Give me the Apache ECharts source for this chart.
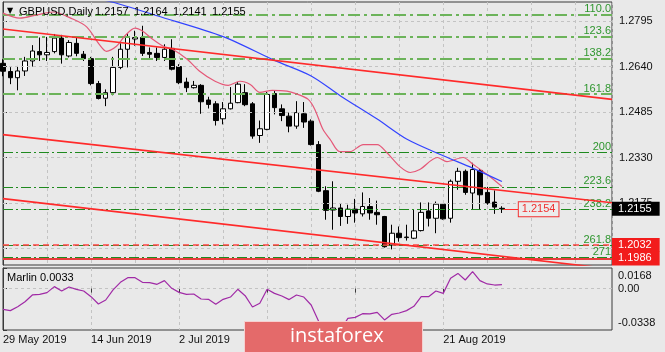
<!DOCTYPE html>
<html>
<head>
<meta charset="utf-8">
<script src="https://cdn.jsdelivr.net/npm/echarts@6/dist/echarts.min.js"></script>
<style>
  html, body { margin: 0; padding: 0; background: #e9e9e9; }
  #chart { width: 665px; height: 352px; }
</style>
</head>
<body>
<div id="chart"></div>
<script>
// daily bars from 29 May 2019: open, high, low, close
const bars = [
  [1.2651, 1.2665, 1.2607, 1.2624], [1.2623, 1.2638, 1.2580, 1.2602], [1.2602, 1.2642, 1.2559, 1.2625],
  [1.2625, 1.2673, 1.2608, 1.2659], [1.2659, 1.2713, 1.2640, 1.2693], [1.2691, 1.2739, 1.2659, 1.2680],
  [1.2680, 1.2741, 1.2659, 1.2688], [1.2691, 1.2751, 1.2685, 1.2737], [1.2737, 1.2748, 1.2650, 1.2680],
  [1.2676, 1.2730, 1.2671, 1.2722], [1.2719, 1.2737, 1.2675, 1.2685], [1.2682, 1.2693, 1.2659, 1.2667],
  [1.2667, 1.2673, 1.2576, 1.2582], [1.2582, 1.2591, 1.2528, 1.2531], [1.2532, 1.2562, 1.2505, 1.2551],
  [1.2551, 1.2673, 1.2542, 1.2637], [1.2637, 1.2719, 1.2631, 1.2699], [1.2699, 1.2753, 1.2637, 1.2739],
  [1.2734, 1.2762, 1.2711, 1.2739], [1.2739, 1.2779, 1.2676, 1.2685], [1.2688, 1.2705, 1.2665, 1.2682],
  [1.2685, 1.2705, 1.2659, 1.2671], [1.2671, 1.2716, 1.2659, 1.2699], [1.2702, 1.2733, 1.2627, 1.2631],
  [1.2640, 1.2648, 1.2580, 1.2585], [1.2587, 1.2602, 1.2553, 1.2568], [1.2568, 1.2591, 1.2565, 1.2576],
  [1.2576, 1.2580, 1.2479, 1.2520], [1.2526, 1.2537, 1.2497, 1.2511], [1.2513, 1.2522, 1.2439, 1.2456],
  [1.2462, 1.2519, 1.2443, 1.2496], [1.2496, 1.2570, 1.2494, 1.2515], [1.2517, 1.2587, 1.2515, 1.2580],
  [1.2551, 1.2580, 1.2505, 1.2510], [1.2513, 1.2519, 1.2394, 1.2403], [1.2405, 1.2456, 1.2380, 1.2428],
  [1.2426, 1.2553, 1.2423, 1.2545], [1.2548, 1.2557, 1.2477, 1.2500], [1.2496, 1.2511, 1.2454, 1.2473],
  [1.2471, 1.2483, 1.2416, 1.2437], [1.2437, 1.2522, 1.2428, 1.2483], [1.2479, 1.2519, 1.2431, 1.2451],
  [1.2454, 1.2460, 1.2371, 1.2374], [1.2374, 1.2386, 1.2212, 1.2215], [1.2217, 1.2232, 1.2118, 1.2150],
  [1.2151, 1.2249, 1.2084, 1.2158], [1.2158, 1.2175, 1.2097, 1.2129], [1.2129, 1.2169, 1.2104, 1.2154],
  [1.2154, 1.2189, 1.2108, 1.2141], [1.2138, 1.2211, 1.2129, 1.2163], [1.2163, 1.2192, 1.2118, 1.2141],
  [1.2143, 1.2183, 1.2101, 1.2135], [1.2129, 1.2131, 1.2023, 1.2026], [1.2032, 1.2101, 1.2017, 1.2072],
  [1.2072, 1.2095, 1.2043, 1.2057], [1.2057, 1.2101, 1.2047, 1.2059], [1.2055, 1.2152, 1.2052, 1.2080],
  [1.2081, 1.2177, 1.2078, 1.2143], [1.2148, 1.2177, 1.2095, 1.2123], [1.2123, 1.2180, 1.2072, 1.2171],
  [1.2171, 1.2175, 1.2118, 1.2121], [1.2123, 1.2255, 1.2108, 1.2249], [1.2249, 1.2295, 1.2220, 1.2283],
  [1.2283, 1.2289, 1.2203, 1.2211], [1.2209, 1.2312, 1.2152, 1.2289], [1.2286, 1.2291, 1.2154, 1.2203],
  [1.2211, 1.2230, 1.2169, 1.2175], [1.2178, 1.2218, 1.2138, 1.2161], [1.2157, 1.2164, 1.2141, 1.2155]
]

// date labels every 12 bars
const dateTickIdx = [0, 12, 24, 36, 48, 60]
const dateLabels = ['29 May 2019', '14 Jun 2019', '2 Jul 2019', '18 Jul 2019', '5 Aug 2019', '21 Aug 2019']

// price axis
const priceTicks = [1.2795, 1.2640, 1.2485, 1.2330, 1.2175, 1.2020]

// moving averages, [bar, price]
const blueMa = [[12, 1.2875], [15, 1.2859], [21, 1.2813], [30, 1.2742], [37, 1.2661], [42, 1.2608],
  [46, 1.2540], [51, 1.2461], [55, 1.2393], [60, 1.2336], [64, 1.2294], [68, 1.2248]]
const pinkMa = [[0, 1.2822], [2.3, 1.2805], [4.6, 1.2816], [6.8, 1.2826], [9.5, 1.2802], [11.4, 1.2775],
  [13.2, 1.2713], [14.1, 1.2692], [15.5, 1.2710], [16.6, 1.2744], [18, 1.2771], [19, 1.2761],
  [20.4, 1.2733], [21.8, 1.2710], [23.1, 1.2699], [25.1, 1.2665], [26.8, 1.2624], [28.9, 1.2590],
  [30.7, 1.2576], [32.3, 1.2590], [33.7, 1.2579], [35, 1.2552], [36.7, 1.2559], [38.7, 1.2556],
  [40.2, 1.2545], [41.6, 1.2528], [42.5, 1.2494], [43.6, 1.2426], [44.6, 1.2391], [45.9, 1.2350],
  [47.3, 1.2350], [49.1, 1.2374], [51, 1.2374], [52.3, 1.2347], [54.1, 1.2299], [55.5, 1.2279],
  [56.8, 1.2289], [59.2, 1.2330], [60.5, 1.2316], [62.7, 1.2330], [64.1, 1.2306], [66, 1.2272], [68, 1.2231]]

// channel lines
const upperChannel = [[0, 1.2768], [83, 1.2528]]
const midChannel = [[0, 1.2408], [83, 1.2176]]
const lowerChannel = [[0, 1.2190], [83, 1.1950]]

// fibo expansion
const fiboNames = ['110.0', '123.6', '138.2', '161.8', '200', '223.6', '238.2', '261.8', '271']
const fiboPrices = [1.2817, 1.2741, 1.2668, 1.2546, 1.2348, 1.2230, 1.2154, 1.2031, 1.1990]

// horizontal levels
const levelPrices = [1.2032, 1.1986]
const priceTag = 1.2154

// Marlin oscillator
const marlin = [
  -0.0169, -0.0180, -0.0148, -0.0107, -0.0052, -0.0047, -0.0033, 0.0016, -0.0020, 0.0013,
  -0.0006, -0.0020, -0.0066, -0.0126, -0.0093, -0.0011, 0.0051, 0.0089, 0.0089, 0.0051,
  0.0048, 0.0035, 0.0065, 0.0002, -0.0031, -0.0047, -0.0044, -0.0085, -0.0088, -0.0128,
  -0.0088, -0.0069, -0.0006, -0.0058, -0.0150, -0.0120, -0.0006, -0.0039, -0.0061, -0.0090,
  -0.0052, -0.0069, -0.0134, -0.0264, -0.0400, -0.0385, -0.0340, -0.0243, -0.0235, -0.0205,
  -0.0207, -0.0194, -0.0256, -0.0210, -0.0199, -0.0180, -0.0145, -0.0066, -0.0066, -0.0020,
  -0.0039, 0.0084, 0.0124, 0.0070, 0.0138, 0.0065, 0.0038, 0.0029, 0.0033
]
const marlinTicks = [0.0168, 0, -0.0338]

const FONT = 'Liberation Sans'
const chart = echarts.init(document.getElementById('chart'))

const candleData = bars.map((b, i) => [i, b[0], b[3], b[2], b[1]])
const last = bars[bars.length - 1]
const gridLine = { color: '#c3c3c3', type: [3, 3], width: 1 }

const fiboLines = fiboPrices.map((p, i) => ({
  yAxis: p,
  label: { formatter: fiboNames[i] },
  lineStyle: i < 4
    ? { color: '#6cb35a', width: 2, type: [12, 4, 3, 4] }
    : { color: '#1f8a1f', width: 1, type: [10, 3, 2, 3] }
}))

const tag = (p, bg) => ({
  yAxis: p,
  label: {
    show: true,
    position: 'end',
    distance: 0,
    formatter: p.toFixed(4),
    color: '#fff',
    backgroundColor: bg,
    padding: [2, 8, 1, 6],
    fontSize: 11,
    fontFamily: FONT
  }
})

chart.setOption({
  backgroundColor: '#e9e9e9',
  animation: false,
  grid: [
    { left: 3, top: 2, width: 609, height: 263, show: true, borderColor: '#3a3a3a', borderWidth: 1, backgroundColor: 'transparent', outerBoundsMode: 'none' },
    { left: 3, top: 268, width: 609, height: 62, show: true, borderColor: '#3a3a3a', borderWidth: 1, backgroundColor: 'transparent', outerBoundsMode: 'none' }
  ],
  xAxis: [
    {
      type: 'value', gridIndex: 0, min: 0, max: 83, interval: 6,
      axisLine: { show: false }, axisTick: { show: false }, axisLabel: { show: false },
      splitLine: { show: true, lineStyle: gridLine }
    },
    {
      type: 'value', gridIndex: 1, min: 0, max: 83, interval: 6,
      axisLine: { show: false },
      axisTick: { show: true, customValues: dateTickIdx, length: 4, inside: false, lineStyle: { color: '#3a3a3a' } },
      axisLabel: {
        customValues: dateTickIdx,
        formatter: v => dateLabels[dateTickIdx.indexOf(v)] || '',
        align: 'left', margin: 4, color: '#111', fontSize: 11, fontFamily: FONT
      },
      splitLine: { show: true, lineStyle: gridLine }
    }
  ],
  yAxis: [
    {
      type: 'value', gridIndex: 0, position: 'right', min: 1.19637, max: 1.2860,
      axisLine: { show: true, lineStyle: { color: '#3a3a3a' } },
      axisTick: { show: true, customValues: priceTicks, length: 4, lineStyle: { color: '#3a3a3a' } },
      axisLabel: { customValues: priceTicks, formatter: v => v.toFixed(4), margin: 7, color: '#111', fontSize: 11, fontFamily: FONT },
      splitLine: { show: false }
    },
    {
      type: 'value', gridIndex: 1, position: 'right', min: -0.0338, max: 0.0168,
      axisLine: { show: true, lineStyle: { color: '#3a3a3a' } },
      axisTick: { show: true, customValues: marlinTicks, length: 4, lineStyle: { color: '#3a3a3a' } },
      axisLabel: {
        customValues: marlinTicks,
        formatter: v => v === 0 ? '{m|0.00}' : (v > 0 ? '{t|' + v.toFixed(4) + '}' : '{b|' + v.toFixed(4) + '}'),
        margin: 6, color: '#111', fontSize: 11, fontFamily: FONT,
        rich: {
          t: { padding: [16, 0, 0, 0], fontSize: 11, fontFamily: FONT, color: '#111' },
          m: { fontSize: 11, fontFamily: FONT, color: '#111' },
          b: { padding: [0, 0, 14, 0], fontSize: 11, fontFamily: FONT, color: '#111' }
        }
      },
      splitLine: { show: false }
    }
  ],
  series: [
    {
      // horizontal grid
      type: 'line', xAxisIndex: 0, yAxisIndex: 0, data: [], z: 1, silent: true,
      markLine: {
        symbol: ['none', 'none'], silent: true, precision: 4, label: { show: false },
        lineStyle: gridLine,
        data: priceTicks.map(p => ({ yAxis: p }))
      }
    },
    {
      // fibo levels
      type: 'line', xAxisIndex: 0, yAxisIndex: 0, data: [], z: 2, silent: true,
      markLine: {
        symbol: ['none', 'none'], silent: true, precision: 4,
        label: { show: true, position: 'insideEndTop', distance: [1, 0], color: '#2f962f', fontSize: 11, fontFamily: FONT },
        data: fiboLines
      }
    },
    {
      // red horizontal levels
      type: 'line', xAxisIndex: 0, yAxisIndex: 0, data: [], z: 3, silent: true,
      markLine: {
        symbol: ['none', 'none'], silent: true, precision: 4, label: { show: false },
        data: [
          { yAxis: levelPrices[0], lineStyle: { color: '#f44', width: 1.5, type: [6, 4] } },
          { yAxis: levelPrices[1], lineStyle: { color: '#e83c3c', width: 2, type: 'solid' } }
        ]
      }
    },
    {
      type: 'candlestick', xAxisIndex: 0, yAxisIndex: 0, z: 4,
      encode: { x: 0, y: [1, 2, 3, 4] },
      barWidth: 5,
      itemStyle: { color: '#fff', color0: '#000', borderColor: '#000', borderColor0: '#000', borderWidth: 1 },
      data: candleData
    },
    {
      type: 'line', xAxisIndex: 0, yAxisIndex: 0, z: 5, data: pinkMa, smooth: 0.3,
      showSymbol: false, lineStyle: { color: '#e55878', width: 1.2 }
    },
    {
      type: 'line', xAxisIndex: 0, yAxisIndex: 0, z: 5, data: blueMa, smooth: 0.3,
      showSymbol: false, lineStyle: { color: '#3344ff', width: 1.2 }
    },
    ...[upperChannel, midChannel, lowerChannel].map(d => ({
      type: 'line', xAxisIndex: 0, yAxisIndex: 0, z: 6, data: d,
      showSymbol: false, lineStyle: { color: '#ff2a2a', width: 1.6 }
    })),
    {
      // price label object
      type: 'line', xAxisIndex: 0, yAxisIndex: 0, z: 7, data: [], silent: true,
      markLine: {
        symbol: ['none', 'none'], silent: true, precision: 4,
        lineStyle: { color: '#ff2a2a', width: 1, type: 'solid' },
        label: {
          show: true, position: 'end', distance: 0, formatter: priceTag.toFixed(4),
          color: '#f03030', borderColor: '#f03030', borderWidth: 1, backgroundColor: '#ececec',
          padding: [2, 3, 1, 3], fontSize: 11, fontFamily: FONT
        },
        data: [[{ coord: [68.2, priceTag] }, { coord: [70.3, priceTag] }]]
      }
    },
    {
      // right axis price tags
      type: 'line', xAxisIndex: 0, yAxisIndex: 0, z: 20, data: [], silent: true, clip: false,
      markLine: {
        symbol: ['none', 'none'], silent: true, precision: 4,
        lineStyle: { color: 'rgba(0,0,0,0)', width: 0 },
        data: [tag(last[3], '#000'), tag(levelPrices[0], '#f21c1c'), tag(levelPrices[1], '#f21c1c')]
      }
    },
    {
      type: 'line', xAxisIndex: 1, yAxisIndex: 1, z: 5,
      data: marlin.map((v, i) => [i, v]),
      showSymbol: false, lineStyle: { color: '#a02aa6', width: 1.2 },
      markLine: {
        symbol: ['none', 'none'], silent: true, precision: 4, label: { show: false },
        lineStyle: gridLine, data: [{ yAxis: 0 }]
      }
    }
  ],
  graphic: [
    { type: 'text', left: 7, top: 7, z: 50, style: { text: '▼', fontSize: 8, fontFamily: 'DejaVu Sans', fill: '#000' } },
    { type: 'text', left: 19, top: 6, z: 50, style: { text: 'GBPUSD,Daily', fontSize: 11, fontFamily: FONT, fill: '#000' } },
    ...last.map((v, i) => ({
      type: 'text', left: 95 + i * 39, top: 6, z: 50,
      style: { text: v.toFixed(4), fontSize: 11, fontFamily: FONT, fill: '#000' }
    })),
    { type: 'text', left: 7, top: 272, z: 50, style: { text: 'Marlin ' + marlin[marlin.length - 1].toFixed(4), fontSize: 11, fontFamily: FONT, fill: '#000' } },
    { type: 'rect', left: 244, top: 321, z: 100, shape: { width: 178, height: 32 }, style: { fill: '#e46a6a', stroke: '#f6d0d0', lineWidth: 1 } },
    { type: 'text', left: 290, top: 326, z: 101, style: { text: 'instaforex', fontSize: 20, fontFamily: 'Open Sans', fill: '#fff' } }
  ]
})
</script>
</body>
</html>
